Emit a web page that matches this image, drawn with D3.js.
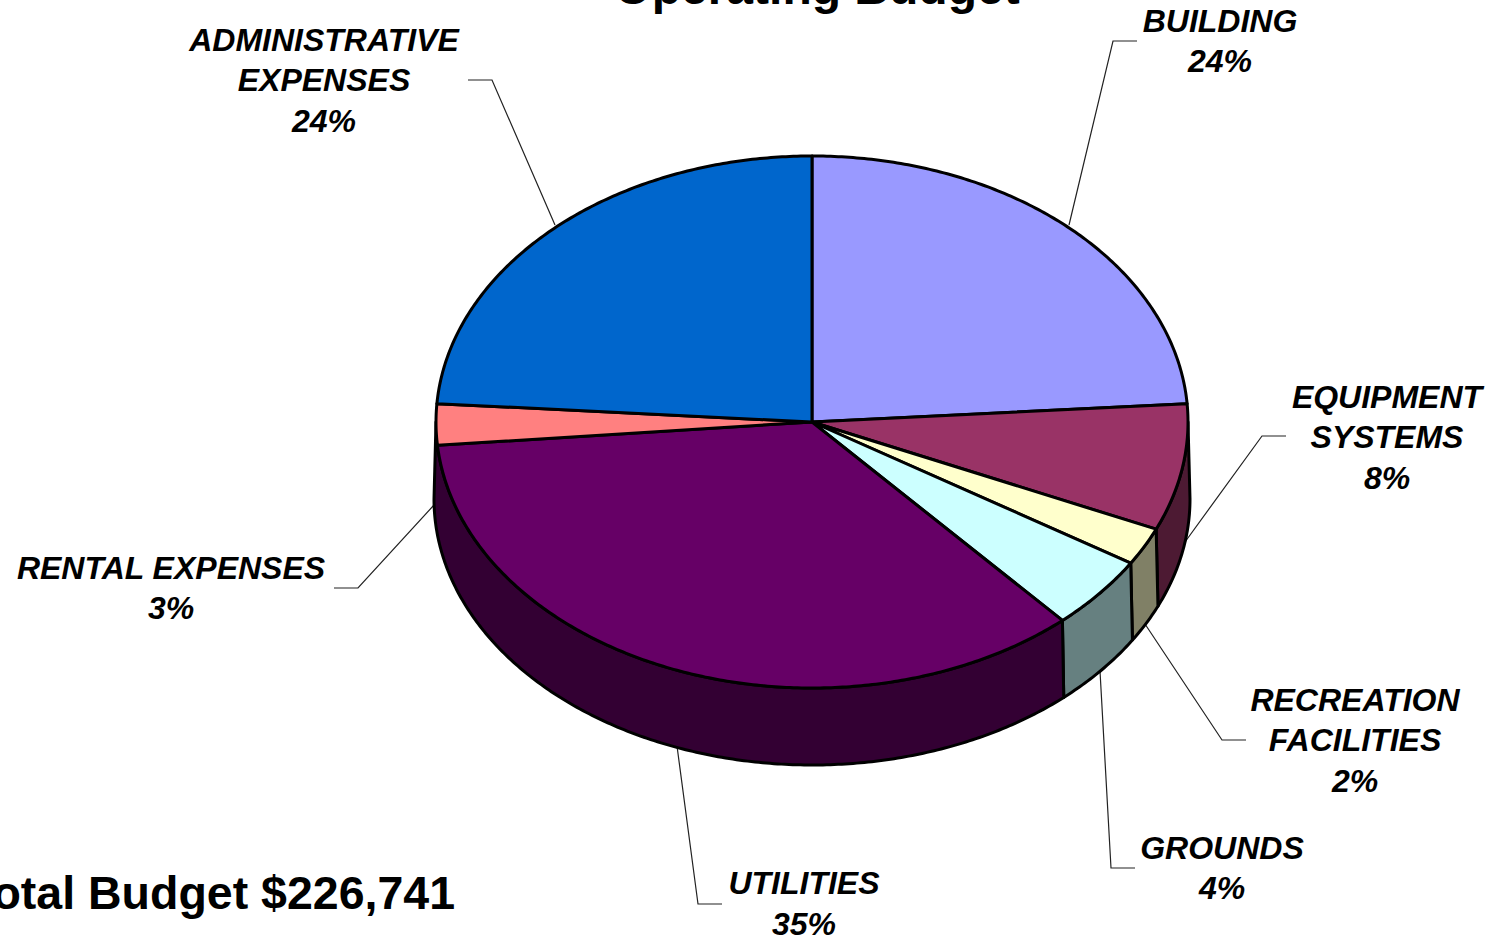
<!DOCTYPE html>
<html><head><meta charset="utf-8">
<script src="https://cdn.jsdelivr.net/npm/d3@7/dist/d3.min.js"></script>
<style>html,body{margin:0;padding:0;background:#fff;overflow:hidden}svg{display:block}
text{font-family:"Liberation Sans",Arial,sans-serif;fill:#000}</style></head><body>
<script>
const categories = ["BUILDING","EQUIPMENT SYSTEMS","RECREATION FACILITIES","GROUNDS","UTILITIES","RENTAL EXPENSES","ADMINISTRATIVE EXPENSES"];
const shares = [23.9,7.7,2.3,4.5,35.2,2.5,23.9];
const shownPercents = ["24%","8%","2%","4%","35%","3%","24%"];
const topColors = ["#9999ff","#993366","#ffffcc","#ccffff","#660066","#ff8080","#0066cc"];
const wallColors = ["#4d4d80","#4d1a33","#808066","#668080","#330033",null,"#003366"];
const labelLines = [["BUILDING"],["EQUIPMENT","SYSTEMS"],["RECREATION","FACILITIES"],["GROUNDS"],["UTILITIES"],["RENTAL EXPENSES"],["ADMINISTRATIVE","EXPENSES"]];
const labelAnchors = [[1220,31.5],[1387,407.5],[1355,710.5],[1222,858.5],[804,894],[171,578.5],[324,50.5]];
const leaders = [
 [[1069,225],[1113,41],[1137,41]],
 [[1185,542],[1262,436],[1286,436]],
 [[1145,624],[1222,740],[1246,740]],
 [[1100,671],[1111,868],[1135,868]],
 [[677,746],[698,904],[722,904]],
 [[434,505],[358,588],[334,588]],
 [[555,225],[492,80],[468,80]]];

const W=1492,H=939;
const svg=d3.select("body").append("svg").attr("width",W).attr("height",H);
const sx=d3.scaleLinear().domain([-1,1]).range([436,1188]);
const sy=d3.scaleLinear().domain([-1,1]).range([156,688]);
const sxLow=d3.scaleLinear().domain([-1,1]).range([434,1190]);
const depth=77;
const arcs=d3.pie().sort(null).value(d=>d)(shares);
const rim=(a,dy=0,xs=sx)=>[xs(Math.sin(a)),sy(-Math.cos(a))+dy];
const sample=(a0,a1,dy=0,xs=sx)=>{const n=Math.max(2,Math.ceil(Math.abs(a1-a0)/0.01));return d3.range(n+1).map(i=>rim(a0+(a1-a0)*i/n,dy,xs));};
const line=d3.line();
const PI=Math.PI;
const style=(s)=>s.attr("stroke","#000").attr("stroke-width",3).attr("stroke-linejoin","round");

svg.append("g").selectAll("path").data(leaders).join("path")
  .attr("d",d=>line(d)).attr("fill","none").attr("stroke","#222").attr("stroke-width",1.2);

arcs.forEach((d,i)=>{
  if(!wallColors[i])return;
  const a0=Math.max(d.startAngle,PI/2);
  let a1=Math.min(d.endAngle,3*PI/2);
  if(i+1<arcs.length && !wallColors[i+1]) a1=3*PI/2;
  if(a0>=a1)return;
  const pts=sample(a0,a1,0).concat(sample(a1,a0,depth,sxLow));
  style(svg.append("path").attr("d",line(pts)+"Z").attr("fill",wallColors[i]));
});
const cx=sx(0),cy=sy(0);
arcs.forEach((d,i)=>{
  const pts=[[cx,cy]].concat(sample(d.startAngle,d.endAngle));
  style(svg.append("path").attr("d",line(pts)+"Z").attr("fill",topColors[i]));
});

const fs=32,lh=40.5;
labelLines.forEach((ls,i)=>{
  const t=svg.append("text").attr("text-anchor","middle").attr("font-size",fs)
    .attr("font-weight","bold").attr("font-style","italic");
  ls.concat([shownPercents[i]]).forEach((s,j)=>{
    t.append("tspan").attr("x",labelAnchors[i][0]).attr("y",labelAnchors[i][1]+j*lh).text(s);
  });
});
svg.append("text").attr("x",817).attr("y",4).attr("text-anchor","middle").attr("font-size",48).attr("font-weight","bold").text("Operating Budget");
svg.append("text").attr("x",455).attr("y",909).attr("text-anchor","end").attr("font-size",46.5).attr("font-weight","bold").text("Total Budget $226,741");
</script></body></html>
